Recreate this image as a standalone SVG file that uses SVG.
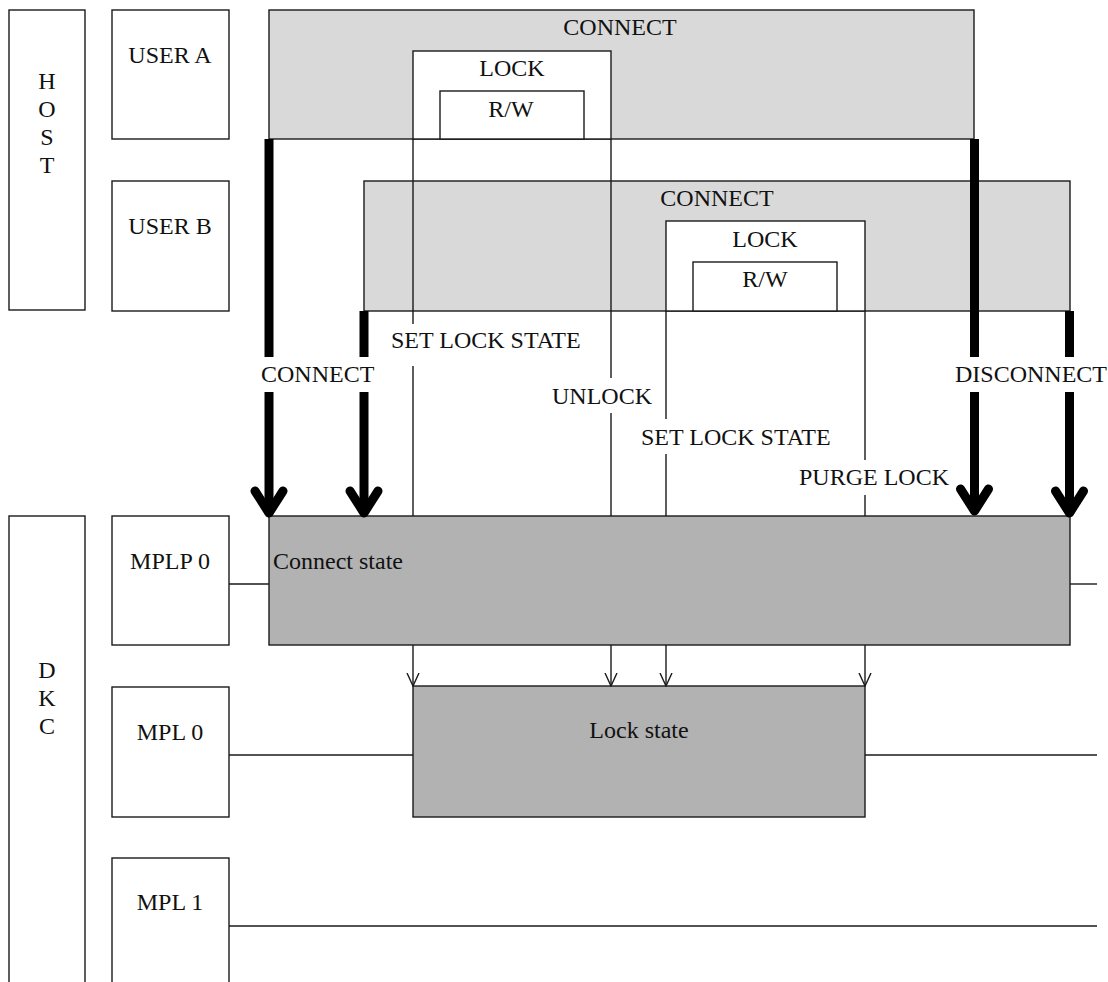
<svg xmlns="http://www.w3.org/2000/svg" width="1108" height="982" viewBox="0 0 1108 982">
<defs>
<style>
text{font-family:"Liberation Serif","Times New Roman",serif;font-size:24px;fill:#111;}
.c{text-anchor:middle;}
.box{fill:#fff;stroke:#1a1a1a;stroke-width:1.4;}
.lg{fill:#d9d9d9;stroke:#1a1a1a;stroke-width:1.4;}
.dg{fill:#b2b2b2;stroke:#1a1a1a;stroke-width:1.4;}
.ln{fill:none;stroke:#1a1a1a;stroke-width:1.4;}
.thick{fill:none;stroke:#000;stroke-width:9;}
.head{fill:none;stroke:#000;stroke-width:9;stroke-linecap:round;stroke-linejoin:round;}
</style>
<marker id="v" viewBox="0 0 14 14" refX="13" refY="7" markerWidth="14" markerHeight="14" markerUnits="userSpaceOnUse" orient="auto">
<path d="M0,1 L13,7 L0,13" fill="none" stroke="#1a1a1a" stroke-width="1.4"/>
</marker>
</defs>
<rect width="1108" height="982" fill="#fff"/>

<g id="host"><rect class="box" x="9" y="10" width="76" height="300"/>
<text class="c" x="47" y="89">H</text><text class="c" x="47" y="117">O</text><text class="c" x="47" y="145">S</text><text class="c" x="47" y="173">T</text></g>
<g id="userA"><rect class="box" x="112" y="10" width="117" height="129"/><text class="c" x="170" y="63">USER A</text></g>
<g id="userB"><rect class="box" x="112" y="181" width="117" height="130"/><text class="c" x="170" y="234">USER B</text></g>

<g id="connectA"><rect class="lg" x="269" y="10" width="705" height="129"/><text class="c" x="620" y="35">CONNECT</text></g>
<g id="lockA"><rect class="box" x="413" y="51" width="198" height="88"/><text class="c" x="512" y="76">LOCK</text></g>
<g id="rwA"><rect class="box" x="440" y="91" width="144" height="48"/><text class="c" x="511" y="117">R/W</text></g>

<g id="connectB"><rect class="lg" x="364" y="181" width="706" height="130"/><text class="c" x="717" y="206">CONNECT</text></g>
<g id="lockB"><rect class="box" x="666" y="221" width="199" height="90"/><text class="c" x="765" y="247">LOCK</text></g>
<g id="rwB"><rect class="box" x="693" y="262" width="144" height="49"/><text class="c" x="765" y="287">R/W</text></g>

<g id="dkc"><rect class="box" x="9" y="516" width="76" height="480"/>
<text class="c" x="47" y="678">D</text><text class="c" x="47" y="706">K</text><text class="c" x="47" y="734">C</text></g>
<g id="mplp0"><rect class="box" x="112" y="516" width="117" height="129"/><text class="c" x="170" y="569">MPLP 0</text></g>
<g id="mpl0"><rect class="box" x="112" y="687" width="117" height="130"/><text class="c" x="170" y="740">MPL 0</text></g>
<g id="mpl1"><rect class="box" x="112" y="858" width="117" height="140"/><text class="c" x="170" y="910">MPL 1</text></g>

<g id="connectState"><rect class="dg" x="269" y="516" width="801" height="129"/><text x="273" y="569">Connect state</text></g>
<g id="lockState"><rect class="dg" x="413" y="686" width="452" height="131"/><text class="c" x="639" y="738">Lock state</text></g>

<g id="connectors">
<path class="ln" d="M413,139 V324 M413,366 V516"/>
<path class="ln" d="M611,139 V378 M611,413 V516"/>
<path class="ln" d="M666,311 V419 M666,454 V516"/>
<path class="ln" d="M865,311 V460 M865,495 V516"/>

<path class="thick" d="M269,139 V357 M269,392 V512"/>
<polyline class="head" points="255,491 269,513 283,491"/>
<path class="thick" d="M364,311 V357 M364,392 V512"/>
<polyline class="head" points="350,491 364,513 378,491"/>
<path class="thick" d="M974.5,139 V357 M974.5,392 V510"/>
<polyline class="head" points="960.5,489 974.5,511 988.5,489"/>
<path class="thick" d="M1069.5,311 V357 M1069.5,392 V512"/>
<polyline class="head" points="1055.5,491 1069.5,513 1083.5,491"/>

<line class="ln" x1="413" y1="645" x2="413" y2="686" marker-end="url(#v)"/>
<line class="ln" x1="611" y1="645" x2="611" y2="686" marker-end="url(#v)"/>
<line class="ln" x1="666" y1="645" x2="666" y2="686" marker-end="url(#v)"/>
<line class="ln" x1="865" y1="645" x2="865" y2="686" marker-end="url(#v)"/>

<line class="ln" x1="229" y1="584" x2="269" y2="584"/>
<line class="ln" x1="1070" y1="584" x2="1097" y2="584"/>
<line class="ln" x1="229" y1="755" x2="413" y2="755"/>
<line class="ln" x1="865" y1="755" x2="1097" y2="755"/>
<line class="ln" x1="229" y1="926" x2="1097" y2="926"/>

<text x="261" y="382">CONNECT</text>
<text x="391" y="348">SET LOCK STATE</text>
<text x="552" y="404">UNLOCK</text>
<text x="641" y="445">SET LOCK STATE</text>
<text x="799" y="485">PURGE LOCK</text>
<text x="955" y="382">DISCONNECT</text>
</g>
</svg>
